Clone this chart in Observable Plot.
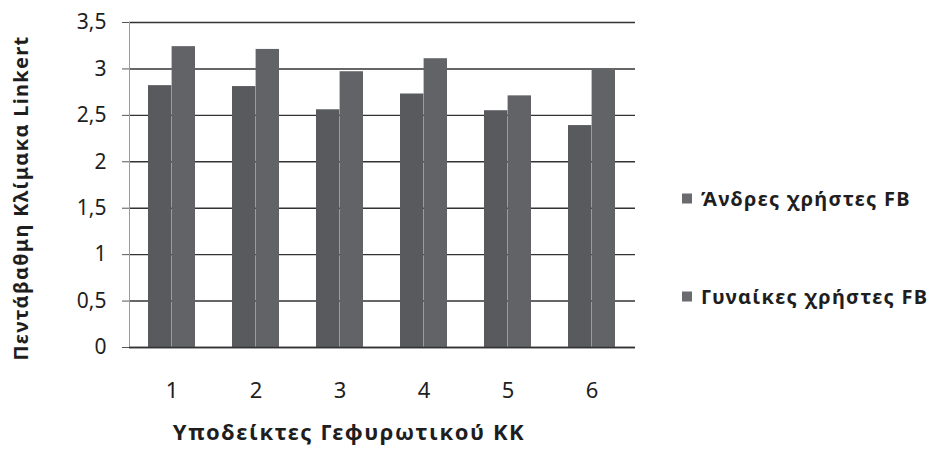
<!DOCTYPE html>
<html><head><meta charset="utf-8">
<script src="https://cdn.jsdelivr.net/npm/d3@7"></script>
<script src="https://cdn.jsdelivr.net/npm/@observablehq/plot@0.6"></script>
<style>
body{margin:0;background:#fff;font-family:"Noto Sans",sans-serif;}
#wrap{position:relative;width:933px;height:464px;overflow:hidden;}
.legend{position:absolute;left:682px;font-weight:bold;font-size:20px;letter-spacing:1.3px;color:#1e1e1e;display:flex;align-items:center;white-space:nowrap;transform:translateY(-50%);}
.sw{width:10px;height:10px;margin-right:9px;display:inline-block;}
.xtitle{position:absolute;left:349px;top:431px;transform:translate(-50%,-50%);font-weight:bold;font-size:22px;letter-spacing:1.6px;color:#1e1e1e;white-space:nowrap;}
.ytitle{position:absolute;left:20px;top:198px;transform:translate(-50%,-50%) rotate(-90deg);font-weight:bold;font-size:20px;letter-spacing:1.3px;color:#1e1e1e;white-space:nowrap;}
#wrap svg g[aria-label="y-axis tick label"], #wrap svg g[aria-label="y-axis tick label"] text{font-size:21px !important;}
#wrap svg g[aria-label="x-axis tick label"], #wrap svg g[aria-label="x-axis tick label"] text{font-size:22px !important;}
</style></head><body><div id="wrap"></div>
<script>
const categories = ["1","2","3","4","5","6"];
const men = [2.82, 2.81, 2.56, 2.73, 2.55, 2.39];
const women = [3.24, 3.21, 2.97, 3.11, 2.71, 2.99];
const seriesNames = ["Άνδρες χρήστες FB", "Γυναίκες χρήστες FB"];
const yTicks = [0, 0.5, 1, 1.5, 2, 2.5, 3, 3.5];
const colors = ["#585a5e", "#616367"];
const xTitle = "Υποδείκτες Γεφυρωτικού ΚΚ";
const yTitle = "Πεντάβαθμη Κλίμακα Linkert";

const rowsMen = categories.map((c, i) => ({cat: c, value: men[i]}));
const rowsWomen = categories.map((c, i) => ({cat: c, value: women[i]}));

const W = 933, H = 464, mL = 129, mR = 298, mT = 22, mB = 117;
const pInner = 0.44, pOuter = 0.22;
const plotW = W - mL - mR;
const step = plotW / (categories.length - pInner + 2 * pOuter);
const half = step * (1 - pInner) / 2;

const chart = Plot.plot({
  width: W, height: H,
  marginLeft: mL, marginRight: mR, marginTop: mT, marginBottom: mB,
  style: {fontFamily: "Noto Sans, sans-serif", fontSize: "21px", color: "#1e1e1e", background: "white"},
  x: {domain: categories, paddingInner: pInner, paddingOuter: pOuter, label: null},
  y: {domain: [0, 3.5], label: null},
  marks: [
    Plot.gridY(yTicks, {stroke: "#333", strokeOpacity: 1, strokeWidth: 1.4}),
    Plot.frame({anchor: "left", stroke: "#9a9a9a"}),
    Plot.barY(rowsMen, {x: "cat", y: "value", fill: colors[0], insetRight: half}),
    Plot.barY(rowsWomen, {x: "cat", y: "value", fill: colors[1], insetLeft: half}),
    Plot.axisY(yTicks, {tickSize: 7, tickPadding: 16, fontSize: 21, tickFormat: d => String(d).replace(".", ","), stroke: "#555", label: null}),
    Plot.axisX({tickSize: 0, tickPadding: 35, fontSize: 22, label: null}),
    Plot.ruleY([0], {stroke: "#333", strokeWidth: 1.4})
  ]
});
const wrap = document.getElementById("wrap");
wrap.appendChild(chart);

seriesNames.forEach((name, i) => {
  const d = document.createElement("div");
  d.className = "legend";
  d.style.top = (i === 0 ? 198 : 296) + "px";
  d.innerHTML = `<span class="sw" style="background:#6a6b6e"></span><span></span>`;
  d.lastChild.textContent = name;
  wrap.appendChild(d);
});
const xt = document.createElement("div"); xt.className = "xtitle"; xt.textContent = xTitle; wrap.appendChild(xt);
const yt = document.createElement("div"); yt.className = "ytitle"; yt.textContent = yTitle; wrap.appendChild(yt);
</script></body></html>
